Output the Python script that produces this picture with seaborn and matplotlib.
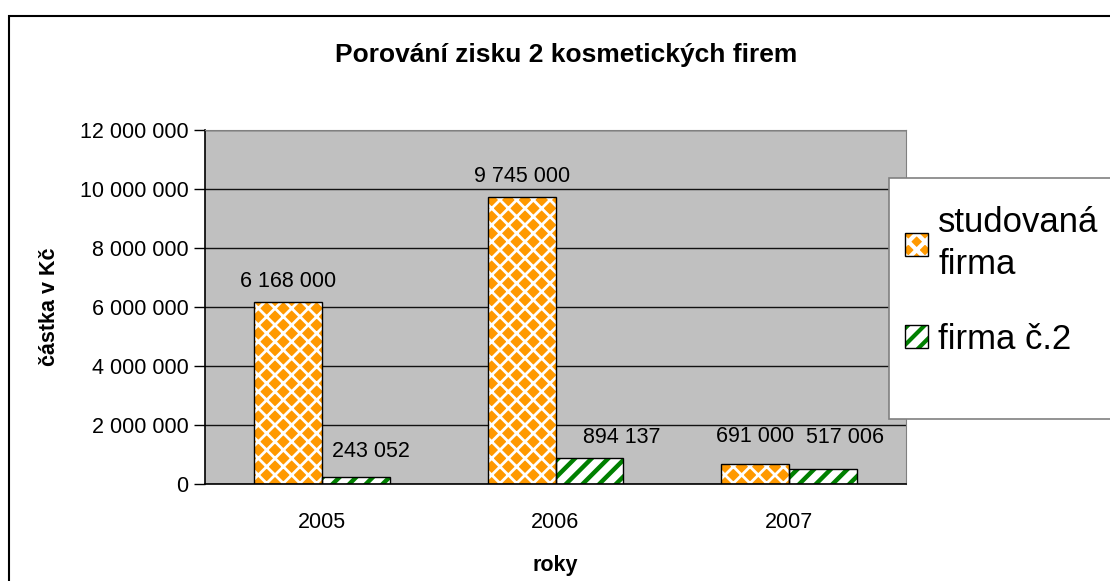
import pandas as pd
import matplotlib.pyplot as plt
import seaborn as sns
from matplotlib.patches import Rectangle, Patch
from matplotlib.legend_handler import HandlerTuple

# data
roky = ['2005', '2006', '2007']
firmy = ['studovaná\nfirma', 'firma č.2']
studovana = [6168000, 9745000, 691000]
firma2 = [243052, 894137, 517006]
y_ticks = [0, 2000000, 4000000, 6000000, 8000000, 10000000, 12000000]

df = pd.DataFrame({
    'rok': roky * 2,
    'zisk': studovana + firma2,
    'firma': [firmy[0]] * 3 + [firmy[1]] * 3,
})

sns.set_style('white')
plt.rcParams['font.family'] = ['Liberation Sans', 'DejaVu Sans']
plt.rcParams['hatch.linewidth'] = 3.0
plt.rcParams['text.color'] = 'black'
plt.rcParams['xtick.color'] = 'black'
plt.rcParams['ytick.color'] = 'black'
plt.rcParams['axes.labelcolor'] = 'black'

fig = plt.figure(figsize=(11.1, 5.81), dpi=100)
ax = fig.add_axes([205 / 1110, 1 - 484 / 581, (906 - 205) / 1110, (484 - 130) / 581])

sns.barplot(data=df, x='rok', y='zisk', hue='firma', hue_order=firmy,
            width=0.58, palette=['#FF9900', 'white'], legend=False, ax=ax,
            saturation=1)

# vzory (hatch) - barva vzoru = edgecolor
styly = [('#FF9900', 'white', 'xx', 2.0), ('white', '#008000', '//', 3.2)]


def vzor(p, fc, hc, h, lw):
    p.set_facecolor(fc)
    p.set_edgecolor(hc)
    p.set_hatch(h)
    p.set_linewidth(0)
    if hasattr(p, 'set_hatch_linewidth'):
        p.set_hatch_linewidth(lw)


for cont, st in zip(ax.containers, styly):
    for p in cont:
        vzor(p, *st)
        ax.add_patch(Rectangle(p.get_xy(), p.get_width(), p.get_height(),
                               fill=False, edgecolor='black', lw=1, zorder=3))

# popisky hodnot (posun jako v Excelu, aby se neprekryvaly)
posuny = [[(0, 0), (0, 0), (0, 5)], [(11, 4), (23, 0), (16, 8)]]
for cont, vals, pos in zip(ax.containers, [studovana, firma2], posuny):
    texty = ax.bar_label(cont, labels=[f'{v:,}'.replace(',', ' ') for v in vals],
                         padding=7, fontsize=15.5)
    for t, (dx, dy) in zip(texty, pos):
        x0, y0 = t.xyann
        t.xyann = (x0 + dx, y0 + dy)

ax.set_facecolor('#C0C0C0')
ax.set_ylim(0, 12000000)
ax.set_xlim(-0.5, 2.5)
ax.set_yticks(y_ticks)
ax.set_yticklabels([f'{v:,}'.replace(',', ' ') for v in y_ticks])
ax.set_xticks([-0.5, 0.5, 1.5, 2.5], minor=True)
ax.tick_params(axis='x', which='major', length=0, pad=20, labelsize=15.5)
ax.tick_params(axis='x', which='minor', length=6, color='#555555', width=1.2)
ax.tick_params(axis='y', length=8, width=1, color='black', labelsize=15.5, pad=4,
               left=True)
ax.yaxis.grid(True, color='#111111', lw=1)
ax.set_axisbelow(True)
for s in ['top', 'right']:
    ax.spines[s].set_color('#808080')
for s in ['left', 'bottom']:
    ax.spines[s].set_color('black')
    ax.spines[s].set_linewidth(1.2)

ax.set_xlabel('roky', fontsize=15.5, fontweight='bold', labelpad=16)
ax.set_ylabel('částka v Kč', fontsize=15.5, fontweight='bold', labelpad=14)
fig.text(566 / 1110, 1 - 55 / 581, 'Porování zisku 2 kosmetických firem',
         ha='center', va='center', fontsize=19, fontweight='bold')

# legenda
h1 = Patch()
h2 = Patch()
vzor(h1, *styly[0])
vzor(h2, *styly[1])
handles = [(h1, Patch(fill=False, edgecolor='black', lw=1)),
           (h2, Patch(fill=False, edgecolor='black', lw=1))]
leg = fig.legend(handles, firmy, loc='upper left',
                 bbox_to_anchor=(905 / 1110, 1 - 206 / 581),
                 fontsize=25, frameon=False, labelspacing=1.2,
                 handlelength=0.66, handleheight=0.66, handletextpad=0.3,
                 borderaxespad=0, borderpad=0,
                 handler_map={tuple: HandlerTuple(ndivide=1, pad=0)})
for t in leg.get_texts():
    t.set_linespacing(1.35)
fig.patches.append(Rectangle((889 / 1110, 1 - 419 / 581), 0.3, (419 - 178) / 581,
                             transform=fig.transFigure, facecolor='white',
                             edgecolor='#808080', lw=1.2, zorder=0))

# ramecek grafu
fig.patches.append(Rectangle((9 / 1110, -0.1), 1.2, (581 - 16) / 581 + 0.1,
                             transform=fig.transFigure, fill=False,
                             edgecolor='black', lw=1.5))

fig.savefig('out.png', dpi=100)
